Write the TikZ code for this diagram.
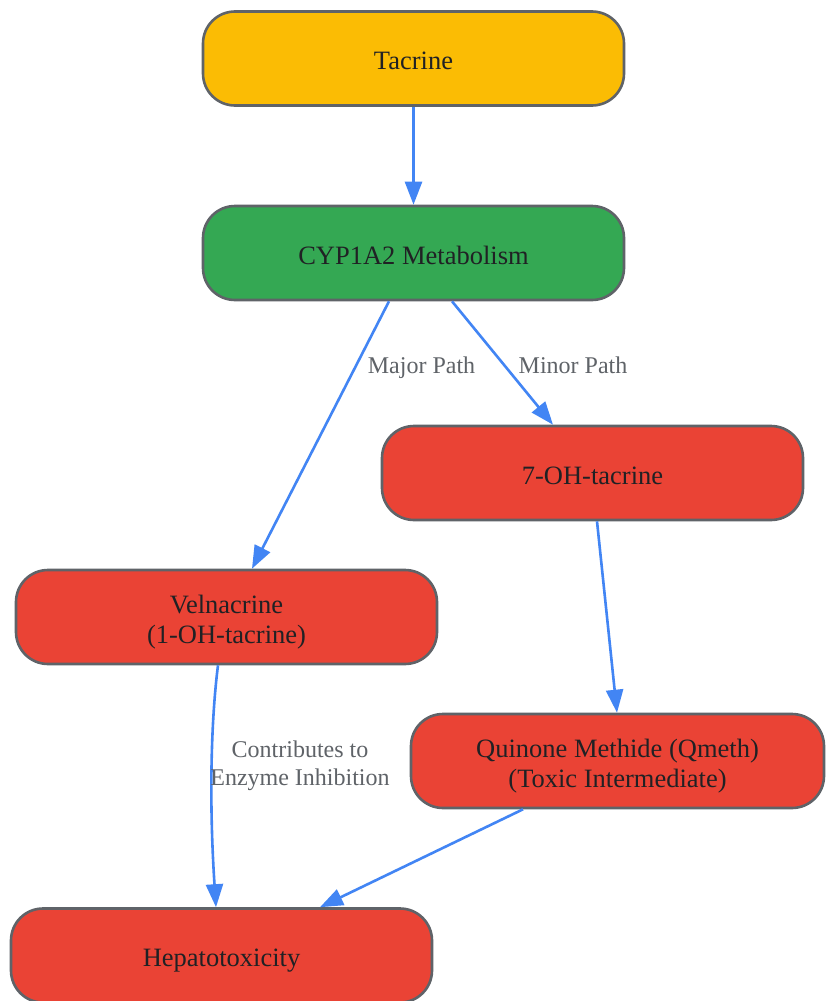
\documentclass[tikz,border=0pt]{standalone}
\usepackage{fontspec}
\setmainfont{Liberation Serif}
\usetikzlibrary{arrows.meta,calc}
\definecolor{cyellow}{HTML}{FBBC04}
\definecolor{cgreen}{HTML}{34A853}
\definecolor{cred}{HTML}{EA4335}
\definecolor{cborder}{HTML}{5F6368}
\definecolor{carrow}{HTML}{4285F4}
\definecolor{ctext}{HTML}{202124}
\definecolor{clabel}{HTML}{5F6368}
\newcommand{\mytopstrut}{\rule{0pt}{29pt}}
\newcommand{\mybotstrut}{\rule[-7pt]{0pt}{0pt}}
\tikzset{
  box/.style={draw=cborder, line width=2.6pt, rectangle, rounded corners=32pt,
    minimum width=421pt, minimum height=94pt, inner sep=0pt, align=center,
    text=ctext, font=\fontsize{26.5}{30}\selectfont},
  conn/.style={draw=carrow, line width=2.6pt, -{Triangle[length=23pt,width=17pt]}},
  elabel/.style={text=clabel, align=center, inner sep=0pt, font=\fontsize{24}{28}\selectfont}
}
\begin{document}
\begin{tikzpicture}[x=1pt,y=-1pt]
\useasboundingbox[fill=white] (0,0) rectangle (826,1001);
\node[box, fill=cyellow] (tac) at (413.5,58.5) {\mytopstrut Tacrine\mybotstrut};
\node[box, fill=cgreen] (cyp) at (413.5,253) {\mytopstrut CYP1A2 Metabolism\mybotstrut};
\node[box, fill=cred] (oh7) at (592.5,473) {\mytopstrut 7-OH-tacrine\mybotstrut};
\node[box, fill=cred] (vel) at (226.5,617) {\mytopstrut Velnacrine\\(1-OH-tacrine)\mybotstrut};
\node[box, fill=cred, minimum width=413pt] (qm) at (617.5,761) {\mytopstrut Quinone Methide (Qmeth)\\(Toxic Intermediate)\mybotstrut};
\node[box, fill=cred] (hep) at (221.5,955.5) {\mytopstrut Hepatotoxicity\mybotstrut};

\draw[conn] (tac.south) -- (cyp.north);
\draw[conn] ($(cyp.south)+(-24.5,0)$) -- ($(vel.north)+(25.5,0)$);
\draw[conn] ($(cyp.south)+(38.5,0)$) -- ($(oh7.north)+(-39.5,0)$);
\draw[conn] ($(oh7.south)+(4.5,0)$) -- ($(qm.north)+(-0.5,0)$);
\draw[conn] ($(vel.south)+(-8.5,0)$) .. controls ($(vel.south)+(-15.5,55)$) and ($(hep.north)+(-12.5,-106)$) .. ($(hep.north)+(-5.5,0)$);
\draw[conn] ($(qm.south)+(-94.5,0)$) -- ($(hep.north)+(98.5,0)$);

\node[elabel, anchor=base] (lmaj) at (421.5,373) {Major Path};
\node[elabel, anchor=base] (lmin) at (573,373) {Minor Path};
\node[elabel] (lcon) at (300,766) {Contributes to\\Enzyme Inhibition};
\end{tikzpicture}
\end{document}
